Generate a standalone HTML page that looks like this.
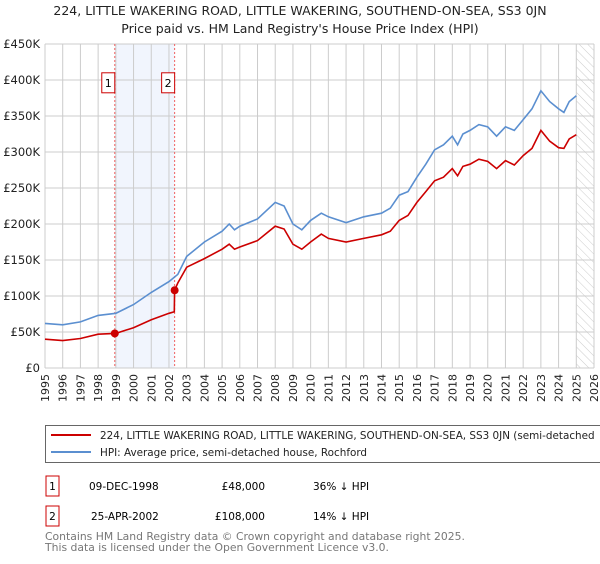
<!DOCTYPE html>
<html><head><meta charset="utf-8"><style>
body{margin:0;background:#fff;font-family:"DejaVu Sans","Liberation Sans",sans-serif;}
svg text{font-family:"DejaVu Sans","Liberation Sans",sans-serif;}
</style></head><body>
<svg id="c" width="600" height="560">
<defs><pattern id="hatch" width="6" height="6" patternUnits="userSpaceOnUse" patternTransform="rotate(-45)"><line x1="0" y1="0" x2="0" y2="6" stroke="#ccc" stroke-width="1"/></pattern></defs>
<text x="300" y="15" text-anchor="middle" font-size="12.5" fill="#222">224, LITTLE WAKERING ROAD, LITTLE WAKERING, SOUTHEND-ON-SEA, SS3 0JN</text>
<text x="300" y="33" text-anchor="middle" font-size="12.5" fill="#222">Price paid vs. HM Land Registry's House Price Index (HPI)</text>
<g id="grid"></g><g id="marks"></g>
<rect x="45.5" y="425.5" width="556" height="37" fill="#fff" stroke="#666"/>
<line x1="51" y1="435" x2="91" y2="435" stroke="#cc0000" stroke-width="2"/>
<text x="100" y="439" font-size="10.4" fill="#222">224, LITTLE WAKERING ROAD, LITTLE WAKERING, SOUTHEND-ON-SEA, SS3 0JN (semi-detached</text>
<line x1="51" y1="452" x2="91" y2="452" stroke="#5b8fd0" stroke-width="2"/>
<text x="100" y="456" font-size="10.4" fill="#222">HPI: Average price, semi-detached house, Rochford</text>
<g>
<rect x="46" y="476" width="13" height="20" fill="#fff" stroke="#cc0000"/><text x="52.5" y="490" text-anchor="middle" font-size="10.5">1</text>
<text x="89" y="490" font-size="10.5">09-DEC-1998</text><text x="265" y="490" text-anchor="end" font-size="10.5">£48,000</text><text x="313" y="490" font-size="10.5">36% ↓ HPI</text></g>
<g>
<rect x="46" y="506" width="13" height="20" fill="#fff" stroke="#cc0000"/><text x="52.5" y="520" text-anchor="middle" font-size="10.5">2</text>
<text x="91" y="520" font-size="10.5">25-APR-2002</text><text x="265" y="520" text-anchor="end" font-size="10.5">£108,000</text><text x="313" y="520" font-size="10.5">14% ↓ HPI</text></g>
<text x="45" y="540" font-size="10.8" fill="#777">Contains HM Land Registry data © Crown copyright and database right 2025.</text>
<text x="45" y="551" font-size="10.8" fill="#777">This data is licensed under the Open Government Licence v3.0.</text>
</svg>
<script>
const yearTicks=[1995,1996,1997,1998,1999,2000,2001,2002,2003,2004,2005,2006,2007,2008,2009,2010,2011,2012,2013,2014,2015,2016,2017,2018,2019,2020,2021,2022,2023,2024,2025,2026];
const priceTicks=[0,50,100,150,200,250,300,350,400,450];
const priceLabels=["£0","£50K","£100K","£150K","£200K","£250K","£300K","£350K","£400K","£450K"];
const hpiT=[1995,1996,1997,1998,1999,2000,2001,2002,2002.5,2003,2004,2005,2005.4,2005.7,2006,2007,2008,2008.5,2009,2009.5,2010,2010.6,2011,2012,2013,2014,2014.5,2015,2015.5,2016,2016.5,2017,2017.5,2018,2018.3,2018.6,2019,2019.5,2020,2020.5,2021,2021.5,2022,2022.5,2023,2023.5,2024,2024.3,2024.6,2025];
const hpiV=[62,60,64,73,76,88,105,120,130,155,175,190,200,192,197,207,230,225,200,192,205,215,210,202,210,215,222,240,245,265,283,303,310,322,310,325,330,338,335,322,335,330,345,360,385,370,360,355,370,378];
const redT=[1995,1996,1997,1998,1998.94,1999,2000,2001,2002,2002.3,2002.32,2002.5,2003,2004,2005,2005.4,2005.7,2006,2007,2008,2008.5,2009,2009.5,2010,2010.6,2011,2012,2013,2014,2014.5,2015,2015.5,2016,2016.5,2017,2017.5,2018,2018.3,2018.6,2019,2019.5,2020,2020.5,2021,2021.5,2022,2022.5,2023,2023.5,2024,2024.3,2024.6,2025];
const redV=[40,38,41,47,48,48,56,67,76,78,108,118,140,152,165,172,165,168,177,197,193,172,165,175,186,180,175,180,185,190,205,212,230,245,260,265,277,267,280,283,290,287,277,288,282,295,305,330,315,306,305,318,324];
const saleT=[1998.94,2002.32];
const saleV=[48,108];
const saleLabels=["1","2"];
const X0=45,X1=594,Y0=368,Y1=44;
const x=t=>X0+(t-1995)*(X1-X0)/31;
const y=v=>Y0-v*(Y0-Y1)/450;
const NS="http://www.w3.org/2000/svg";
function mk(tag,attrs,parent){const e=document.createElementNS(NS,tag);for(const k in attrs)e.setAttribute(k,attrs[k]);parent.appendChild(e);return e;}
const g=document.getElementById('grid'),m=document.getElementById('marks');
let r=mk('rect',{x:x(saleT[0]),y:Y1,width:x(saleT[1])-x(saleT[0]),height:Y0-Y1,fill:'#eef3fc',opacity:0.8},g);


r=mk('rect',{x:x(2025),y:Y1,width:X1-x(2025),height:Y0-Y1,fill:'url(#hatch)'},g);


yearTicks.forEach(t=>{
 const l=mk('line',{x1:x(t),x2:x(t),y1:Y1,y2:Y0,stroke:'#ccc'},g);
 
 
 const tx=mk('text',{x:x(t)+4,y:Y0+6,'font-size':11,fill:'#222',transform:`rotate(-90 ${x(t)+4} ${Y0+6})`,'text-anchor':'end'},g);
 tx.textContent=t;
 
 
});
priceTicks.forEach((v,i)=>{
 const l=mk('line',{x1:X0,x2:X1,y1:y(v),y2:y(v),stroke:'#ccc'},g);
 
 
 const tx=mk('text',{x:X0-5,y:y(v)+4,'font-size':11.5,fill:'#222','text-anchor':'end'},g);
 tx.textContent=priceLabels[i];
 
 
});
saleT.forEach((t,i)=>{
 const l=mk('line',{x1:x(t),x2:x(t),y1:Y1,y2:Y0,stroke:'#f06060','stroke-dasharray':'2,2'},m);
 
 
 const b=mk('rect',{x:x(t)-13,y:y(410),width:13,height:20,fill:'#fff',stroke:'#cc0000'},m);
 
 
 const tx=mk('text',{x:x(t)-6.5,y:y(410)+14,'font-size':11,'text-anchor':'middle'},m);
 tx.textContent=saleLabels[i];
 
 
});
const pts=(T,V)=>T.map((t,i)=>x(t).toFixed(1)+','+y(V[i]).toFixed(1)).join(' ');
let p=mk('polyline',{points:pts(hpiT,hpiV),fill:'none',stroke:'#5b8fd0','stroke-width':1.6},m);


p=mk('polyline',{points:pts(redT,redV),fill:'none',stroke:'#cc0000','stroke-width':1.6},m);


saleT.forEach((t,i)=>{
 const c=mk('circle',{cx:x(t),cy:y(saleV[i]),r:4,fill:'#cc0000'},m);
 
 
});
</script>
</body></html>
